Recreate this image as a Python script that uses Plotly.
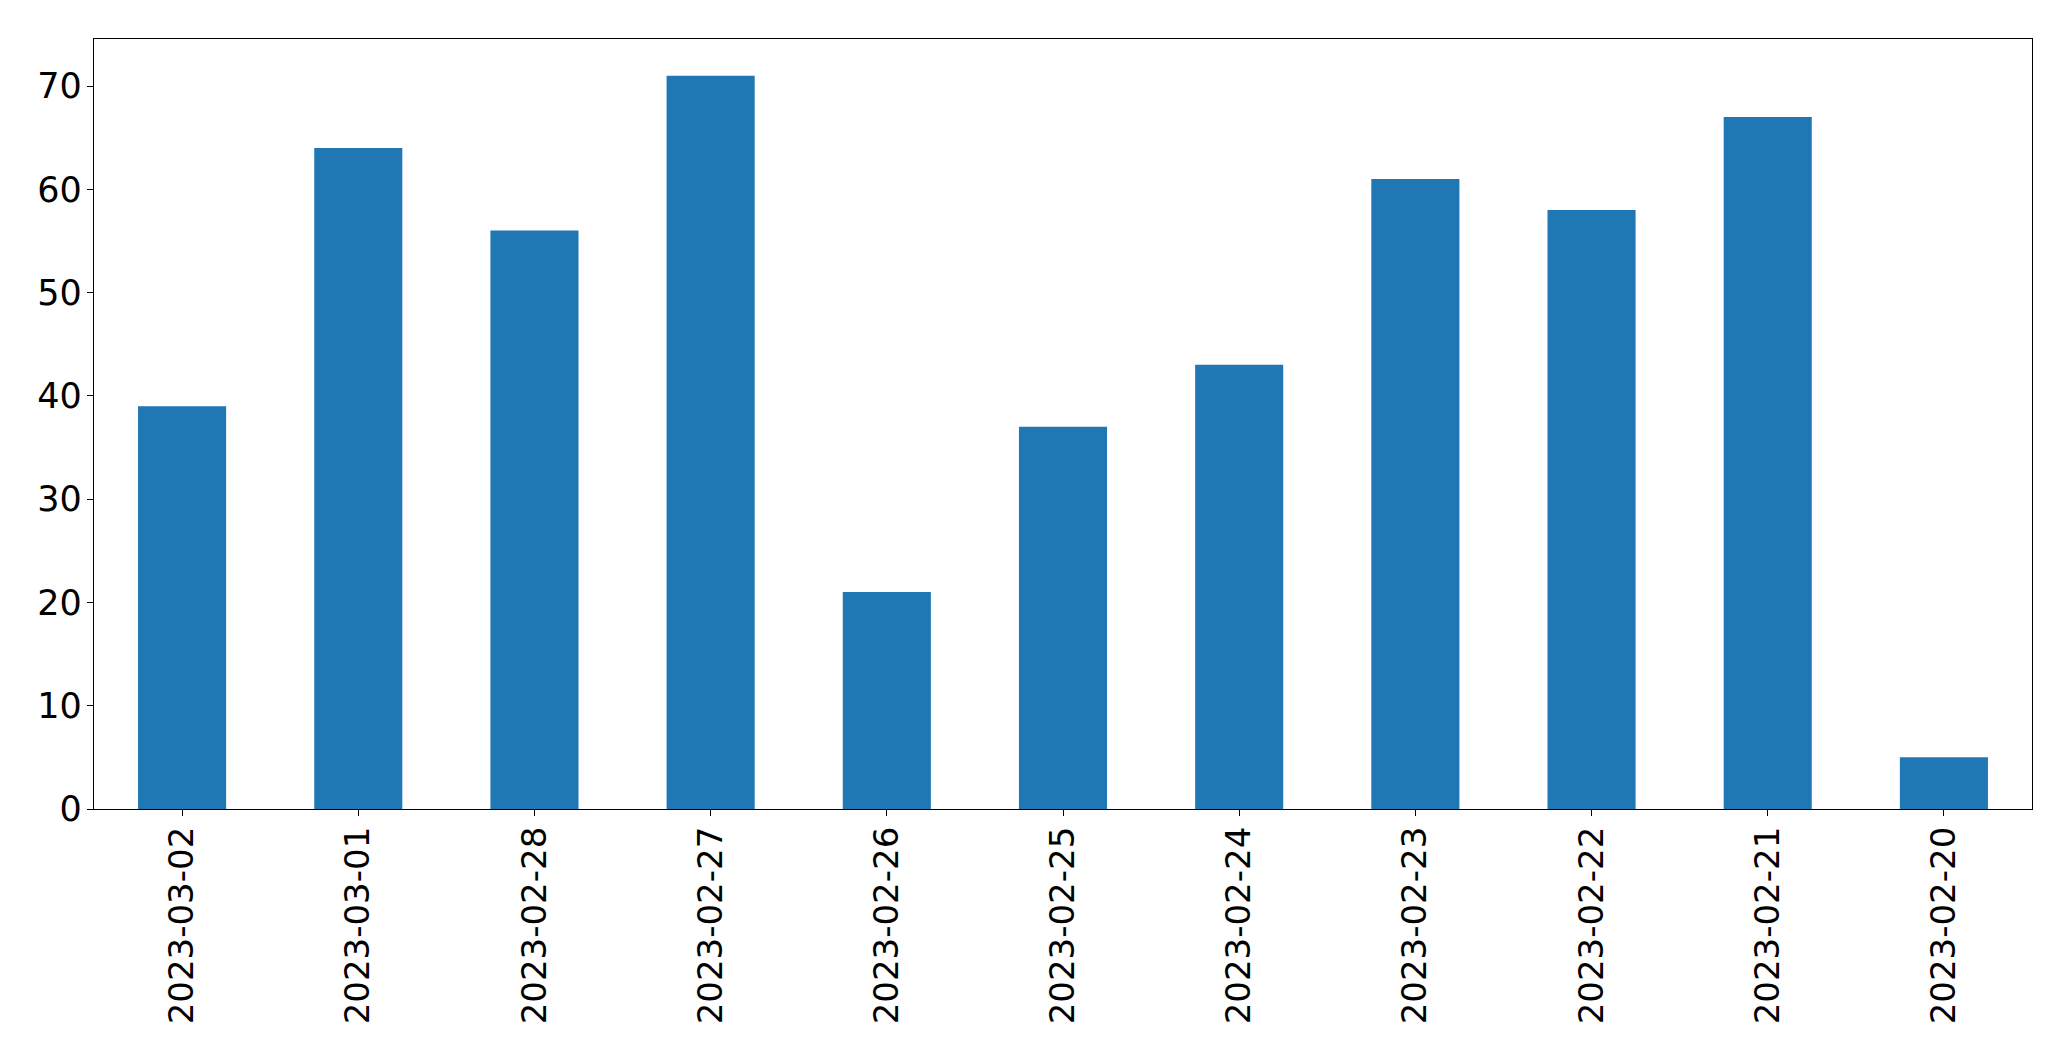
import plotly.graph_objects as go

dates = ["2023-03-02", "2023-03-01", "2023-02-28", "2023-02-27", "2023-02-26",
         "2023-02-25", "2023-02-24", "2023-02-23", "2023-02-22", "2023-02-21",
         "2023-02-20"]
counts = [39, 64, 56, 71, 21, 37, 43, 61, 58, 67, 5]
y_ticks = [0, 10, 20, 30, 40, 50, 60, 70]

fig = go.Figure(go.Bar(x=dates, y=counts, marker=dict(color="#1f77b4", line=dict(width=0))))

# page body has an 8px margin; figure sized to fit the 2071x1061 window
fig.update_layout(
    width=2055, height=1045,
    margin=dict(l=86, r=31, t=31, b=244),
    paper_bgcolor="white", plot_bgcolor="white",
    bargap=0.5,
    showlegend=False,
    font=dict(family="DejaVu Sans", size=34, color="black"),
)
fig.update_xaxes(
    type="category", range=[-0.5, len(dates) - 0.5],
    tickangle=-90, showline=True, linecolor="black", linewidth=1.3, mirror=True,
    ticks="outside", ticklen=6, tickwidth=1.3, tickcolor="black",
    showgrid=False, zeroline=False, tickfont=dict(size=34), ticklabelstandoff=-3,
)
fig.update_yaxes(
    range=[0, max(counts) * 1.05], tickvals=y_ticks,
    showline=True, linecolor="black", linewidth=1.3, mirror=True,
    ticks="outside", ticklen=6, tickwidth=1.3, tickcolor="black",
    showgrid=False, zeroline=False, tickfont=dict(size=35), ticklabelstandoff=-2,
)

fig.write_html("out.html")
